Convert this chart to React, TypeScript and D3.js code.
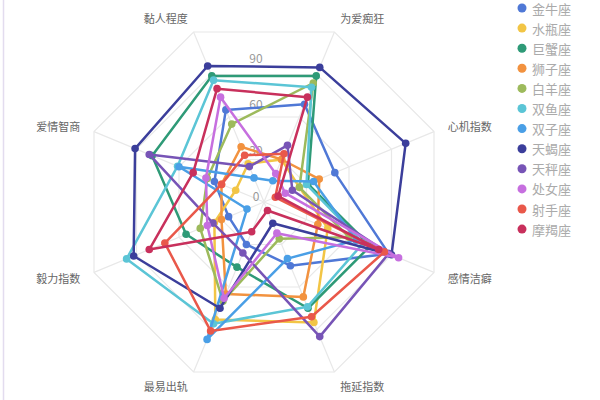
import React, { useEffect, useRef } from 'react';
import * as d3 from 'd3';

// radar axes, clockwise starting top-left
const indicators = ['黏人程度', '为爱痴狂', '心机指数', '感情洁癖', '拖延指数', '最易出轨', '毅力指数', '爱情智商'];
const tickValues = [0, 30, 60, 90];
const maxValue = 120;

const signs = ['金牛座', '水瓶座', '巨蟹座', '狮子座', '白羊座', '双鱼座', '双子座', '天蝎座', '天秤座', '处女座', '射手座', '摩羯座'];
const colors = ['#4f78d6', '#f2c545', '#2e9a77', '#f2923f', '#9dba5c', '#5bc5d6', '#4a9fe6', '#3b3e9b', '#7754b6', '#c66fdf', '#e9584a', '#c8305c'];

const jinniu = [65, 69, 50, 88, 45, 30, 25, 35];
const shuiping = [27, 30, 25, 45, 85, 83, 35, 20];
const juxie = [89, 89, 31, 75, 75, 46, 55, 79];
const shizi = [39, 30, 39, 38, 67, 65, 30, 30];
const baiyang = [55, 84, 25, 60, 26, 70, 45, 40];
const shuangyu = [86, 81, 30, 70, 74, 86, 97, 61];
const shuangzi = [17, 15, 35, 65, 40, 97, 12, 60];
const tianxie = [96, 95, 100, 90, 15, 75, 92, 91];
const tianping = [25, 40, 20, 88, 95, 36, 36, 81];
const chunv = [74, 20, 15, 95, 22, 68, 40, 41];
const sheshou = [33, 34, 8, 85, 81, 91, 70, 30];
const mojie = [80, 74, 10, 81, 6, 21, 81, 50];

const seriesValues = [jinniu, shuiping, juxie, shizi, baiyang, shuangyu, shuangzi, tianxie, tianping, chunv, sheshou, mojie];

const App: React.FC = () => {
  const svgRef = useRef<SVGSVGElement>(null);

  useEffect(() => {
    const svg = d3.select(svgRef.current);
    svg.selectAll('*').remove();

    const width = 600;
    const height = 400;
    const cx = 264;
    const cy = 202;
    const radius = 184;
    const font = '"Noto Sans CJK SC", "Noto Sans", sans-serif';

    svg.attr('width', width).attr('height', height).style('background', '#fff');

    // faint border on the left edge
    svg.append('line')
      .attr('x1', 3.5).attr('x2', 3.5)
      .attr('y1', 0).attr('y2', height)
      .attr('stroke', '#e3dcef')
      .attr('stroke-width', 1.5);

    const angle = d3.scaleLinear()
      .domain([0, indicators.length])
      .range([-Math.PI / 8, 2 * Math.PI - Math.PI / 8]);
    const r = d3.scaleLinear().domain([0, maxValue]).range([0, radius]);

    const g = svg.append('g').attr('transform', `translate(${cx},${cy})`);

    // grid rings
    const ringLevels = d3.range(30, maxValue + 1, 30);
    const ringLine = d3.lineRadial<number>()
      .angle((_, i) => angle(i))
      .radius(d => r(d))
      .curve(d3.curveLinearClosed);
    g.selectAll('.ring')
      .data(ringLevels)
      .enter()
      .append('path')
      .attr('class', 'ring')
      .attr('d', lv => ringLine(indicators.map(() => lv)))
      .attr('fill', 'none')
      .attr('stroke', '#e8e8e8')
      .attr('stroke-width', 1.2);

    // spokes
    g.selectAll('.spoke')
      .data(indicators)
      .enter()
      .append('line')
      .attr('class', 'spoke')
      .attr('x1', 0).attr('y1', 0)
      .attr('x2', (_, i) => d3.pointRadial(angle(i), r(maxValue))[0])
      .attr('y2', (_, i) => d3.pointRadial(angle(i), r(maxValue))[1])
      .attr('stroke', '#e8e8e8')
      .attr('stroke-width', 1.2);

    // indicator names
    g.selectAll('.name')
      .data(indicators)
      .enter()
      .append('text')
      .attr('class', 'name')
      .attr('x', (_, i) => d3.pointRadial(angle(i), radius + 15)[0])
      .attr('y', (_, i) => d3.pointRadial(angle(i), radius + 15)[1])
      .attr('text-anchor', (_, i) => (Math.sin(angle(i)) < 0 ? 'end' : 'start'))
      .attr('dominant-baseline', 'central')
      .attr('font-family', font)
      .attr('font-size', 11)
      .attr('fill', '#666')
      .text(d => d);

    // value ticks
    g.selectAll('.tick')
      .data(tickValues)
      .enter()
      .append('text')
      .attr('class', 'tick')
      .attr('x', -8)
      .attr('y', d => -r(d) - 7)
      .attr('text-anchor', 'middle')
      .attr('dominant-baseline', 'central')
      .attr('font-family', font)
      .attr('font-size', 12)
      .attr('fill', '#999')
      .text(d => d);

    // series
    const line = d3.lineRadial<number>()
      .angle((_, i) => angle(i))
      .radius(d => r(d))
      .curve(d3.curveLinearClosed);

    seriesValues.forEach((values, si) => {
      const sg = g.append('g');
      sg.append('path')
        .attr('d', line(values))
        .attr('fill', 'none')
        .attr('stroke', colors[si])
        .attr('stroke-width', 2.5)
        .attr('stroke-linejoin', 'round');
      sg.selectAll('circle')
        .data(values)
        .enter()
        .append('circle')
        .attr('cx', (d, i) => d3.pointRadial(angle(i), r(d))[0])
        .attr('cy', (d, i) => d3.pointRadial(angle(i), r(d))[1])
        .attr('r', 3.8)
        .attr('fill', colors[si]);
    });

    // legend
    const legend = svg.append('g').attr('transform', 'translate(522, 8)');
    const item = legend.selectAll('.item')
      .data(signs)
      .enter()
      .append('g')
      .attr('transform', (_, i) => `translate(0, ${i * 20.1})`);
    item.append('circle')
      .attr('r', 4.5)
      .attr('fill', (_, i) => colors[i]);
    item.append('text')
      .attr('x', 10)
      .attr('dominant-baseline', 'central')
      .attr('font-family', font)
      .attr('font-size', 13)
      .attr('fill', '#aaa')
      .text(d => d);
  }, []);

  return (
    <div style={{ position: 'absolute', left: 0, top: 0 }}>
      <svg ref={svgRef}></svg>
    </div>
  );
};

export default App;
